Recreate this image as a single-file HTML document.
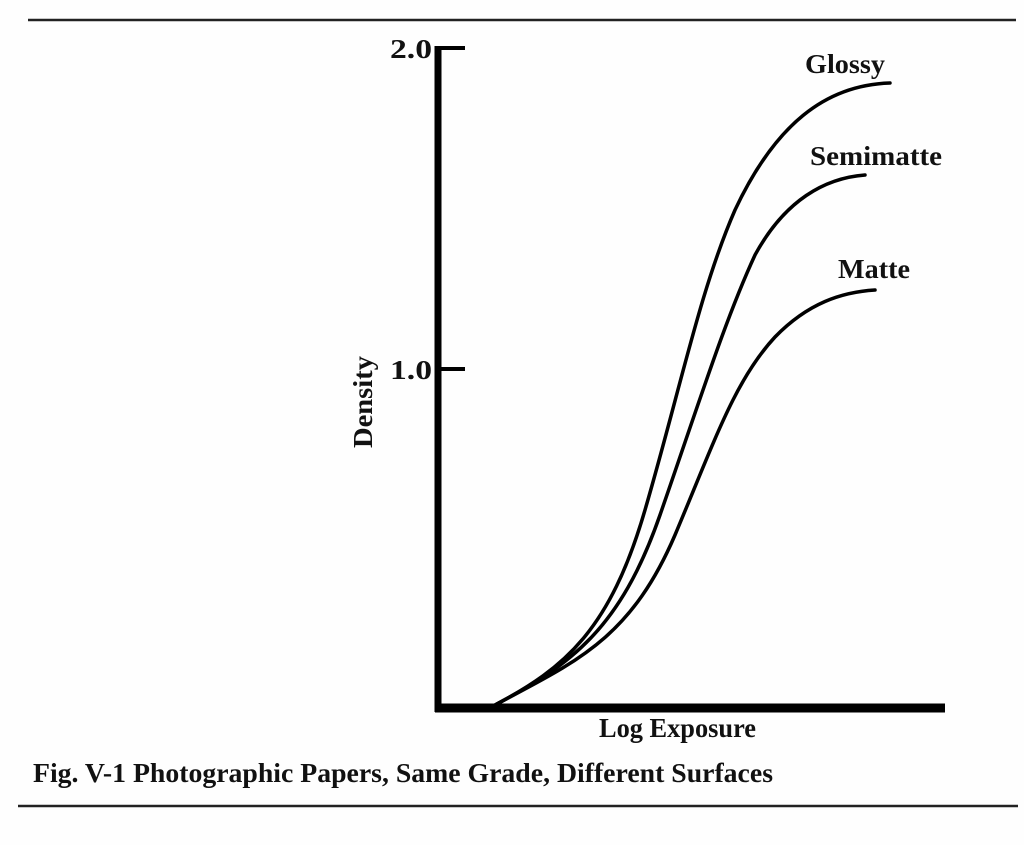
<!DOCTYPE html>
<html><head><meta charset="utf-8"><style>
html,body{margin:0;padding:0;background:#fff;}
svg{display:block;}
text{font-family:"Liberation Serif",serif;font-weight:bold;fill:#111;}
</style></head><body>
<svg width="1024" height="845" viewBox="0 0 1024 845" xmlns="http://www.w3.org/2000/svg">
<rect width="1024" height="845" fill="#fefefe"/>
<line x1="28" y1="20" x2="1016" y2="20" stroke="#222" stroke-width="2.5"/>
<line x1="18" y1="806" x2="1018" y2="806" stroke="#222" stroke-width="2.5"/>
<line x1="438" y1="46" x2="438" y2="712" stroke="#000" stroke-width="7"/>
<line x1="435" y1="708" x2="945" y2="708" stroke="#000" stroke-width="9"/>
<line x1="438" y1="48" x2="465" y2="48" stroke="#000" stroke-width="4"/>
<line x1="438" y1="369" x2="465" y2="369" stroke="#000" stroke-width="4"/>
<text x="390" y="58" font-size="27" textLength="42" lengthAdjust="spacingAndGlyphs">2.0</text>
<text x="390" y="379" font-size="27" textLength="42" lengthAdjust="spacingAndGlyphs">1.0</text>
<text transform="translate(372,402) rotate(-90)" font-size="27" text-anchor="middle" textLength="92" lengthAdjust="spacingAndGlyphs">Density</text>
<text x="599" y="737" font-size="27" textLength="157" lengthAdjust="spacingAndGlyphs">Log Exposure</text>
<text x="33" y="782" font-size="27" textLength="740" lengthAdjust="spacingAndGlyphs">Fig. V-1 Photographic Papers, Same Grade, Different Surfaces</text>
<g fill="none" stroke="#000" stroke-width="3.5" stroke-linecap="round">
<path d="M495,705 C565,668 610,630 645,510 C680,390 700,290 735,210 C775,125 825,85 890,83"/>
<path d="M495,705 C570,665 620,630 660,515 C700,400 725,320 755,255 C785,200 825,178 865,175"/>
<path d="M495,705 C575,662 630,640 675,535 C715,440 735,380 775,337 C808,303 842,292 875,290"/>
</g>
<text x="805" y="73" font-size="27" textLength="80" lengthAdjust="spacingAndGlyphs">Glossy</text>
<text x="810" y="165" font-size="27" textLength="132" lengthAdjust="spacingAndGlyphs">Semimatte</text>
<text x="838" y="278" font-size="27" textLength="72" lengthAdjust="spacingAndGlyphs">Matte</text>
</svg>
</body></html>
